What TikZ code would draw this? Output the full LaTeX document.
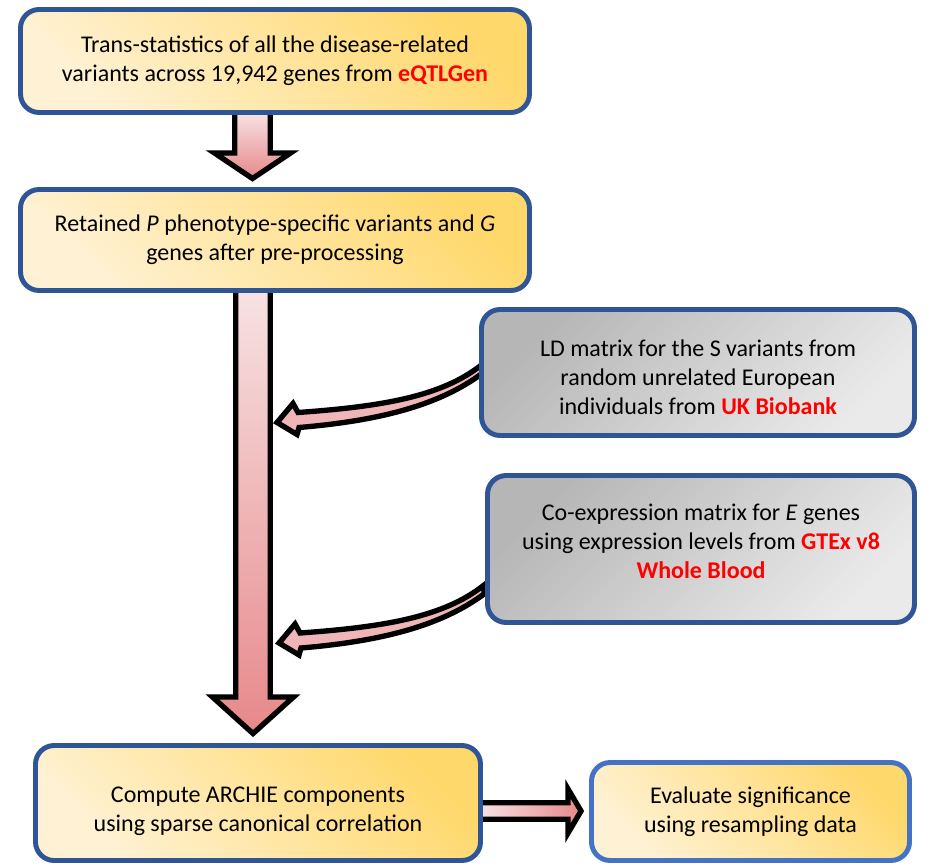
\documentclass[tikz,border=0pt]{standalone}
\usepackage{fontspec}
\setmainfont{Carlito}
\usetikzlibrary{calc}
\definecolor{bdark}{RGB}{47,85,151}
\definecolor{blight}{RGB}{68,114,196}
\definecolor{ygold}{RGB}{255,216,108}
\definecolor{ycream}{RGB}{255,242,212}
\definecolor{gdark}{RGB}{182,182,182}
\definecolor{glight}{RGB}{234,234,234}
\definecolor{pklight}{RGB}{247,226,227}
\definecolor{pkdark}{RGB}{231,136,138}
\definecolor{pkmid}{RGB}{240,182,183}
\definecolor{hlred}{RGB}{255,0,0}
\newcommand\hl[1]{\textcolor{hlred}{\textbf{#1}}}
\begin{document}
\begin{tikzpicture}[x=0.75pt,y=-0.75pt,
  basebox/.style={line width=3.7pt, rounded corners=14pt, align=center,
    inner sep=0pt, font=\fontsize{18}{21.75}\selectfont},
  ybox/.style={basebox, draw=bdark, top color=ygold, bottom color=ycream, shading angle=-45},
  gbox/.style={basebox, draw=bdark, top color=gdark, bottom color=glight, shading angle=45},
  blk/.style={draw=black, line width=4pt, line join=miter, miter limit=10},
  vshade/.style={top color=pklight, bottom color=pkdark},
  hshade/.style={left color=pklight, right color=pkdark},
]
\useasboundingbox (0,0) rectangle (930,866);

\coordinate (c1) at (275,61);
\coordinate (c2) at (275,240);
\coordinate (c3) at (258,803);
\coordinate (c4) at (750.5,811.5);
\coordinate (cl) at (698,372.5);
\coordinate (cx) at (701,549);

% invisible placeholders of the boxes, so that the arrows (drawn first) can refer to them
\path (c1) node[ybox, minimum width=381.75pt, minimum height=77.25pt, opacity=0] (b1) {};
\path (c2) node[ybox, minimum width=381.75pt, minimum height=75.75pt, opacity=0] (b2) {};
\path (c3) node[ybox, minimum width=333.75pt, minimum height=86.25pt, opacity=0] (b3) {};
\path (c4) node[ybox, minimum width=238.5pt, minimum height=73.5pt, opacity=0] (b4) {};
\path (cl) node[gbox, minimum width=324.75pt, minimum height=94.5pt, opacity=0] (ld) {};
\path (cx) node[gbox, minimum width=320.25pt, minimum height=110.25pt, opacity=0] (ce) {};

% ---- arrows ----
\coordinate (a1t) at ($(b1.south)+(-22.5,-3)$);
\coordinate (a1h) at ($(b2.north)+(-22.5,-8.5)$);
\draw[blk, vshade]
  ($(a1t)+(-17.8,0)$) -- ($(a1h)+(-17.8,-25.5)$) -- ($(a1h)+(-38,-25.5)$) -- (a1h)
  -- ($(a1h)+(38,-25.5)$) -- ($(a1h)+(17.8,-25.5)$) -- ($(a1t)+(17.8,0)$) -- cycle;

\coordinate (a2t) at ($(b2.south)+(-22,-3)$);
\coordinate (a2h) at ($(b3.north)+(-5,-9.5)$);
\draw[blk, vshade]
  ($(a2t)+(-17.3,0)$) -- ($(a2h)+(-17.3,-36.5)$) -- ($(a2h)+(-40.5,-36.5)$) -- (a2h)
  -- ($(a2h)+(40.5,-36.5)$) -- ($(a2h)+(17.3,-36.5)$) -- ($(a2t)+(17.3,0)$) -- cycle;

\coordinate (a3t) at ($(b3.east)+(-3,8)$);
\coordinate (a3h) at ($(b4.west)+(-8,-0.5)$);
\draw[blk, hshade]
  ($(a3t)+(0,-8.3)$) -- ($(a3h)+(-13,-8.3)$) -- ($(a3h)+(-13,-22)$) -- (a3h)
  -- ($(a3h)+(-13,22)$) -- ($(a3h)+(-13,8.3)$) -- ($(a3t)+(0,8.3)$) -- cycle;

\newcommand\curvedarr[1]{%
\draw[blk, fill=pkmid]
  (#1) .. controls ($(#1)+(-40,32)$) and ($(#1)+(-100,42)$) .. ($(#1)+(-184,48)$)
  -- ($(#1)+(-189,39)$) -- ($(#1)+(-205,58)$) -- ($(#1)+(-185,70)$) -- ($(#1)+(-183,63)$)
  .. controls ($(#1)+(-100,56)$) and ($(#1)+(-42,40)$) .. ($(#1)+(0,9)$) -- cycle;}
\coordinate (t1) at ($(ld.west)+(3,-8)$);
\coordinate (t2) at ($(ce.west)+(-1,36)$);
\curvedarr{t1}
\curvedarr{t2}

% ---- boxes with text ----
\node[ybox, minimum width=381.75pt, minimum height=77.25pt] (B1) at (c1)
  {Trans-statistics of all the disease-related\\variants across 19,942 genes from \hl{eQTLGen}};
\node[ybox, minimum width=381.75pt, minimum height=75.75pt] (B2) at (c2)
  {Retained \textit{P} phenotype-specific variants and \textit{G}\\genes after pre-processing};
\node[gbox, minimum width=324.75pt, minimum height=94.5pt] (LD) at (cl)
  {\rule{0pt}{19pt}LD matrix for the S variants from\\random unrelated European\\individuals from \hl{UK Biobank}};
\node[gbox, minimum width=320.25pt, minimum height=110.25pt] (CE) at (cx)
  {Co-expression matrix for \textit{E} genes\\using expression levels from \hl{GTEx v8}\\\hl{Whole Blood}\rule[-11.5pt]{0pt}{0pt}};
\node[ybox, minimum width=333.75pt, minimum height=86.25pt] (B3) at (c3)
  {\rule{0pt}{23.5pt}Compute ARCHIE components\\using sparse canonical correlation};
\node[ybox, draw=blight, minimum width=238.5pt, minimum height=73.5pt] (B4) at (c4)
  {Evaluate significance\\using resampling data};
\end{tikzpicture}
\end{document}
